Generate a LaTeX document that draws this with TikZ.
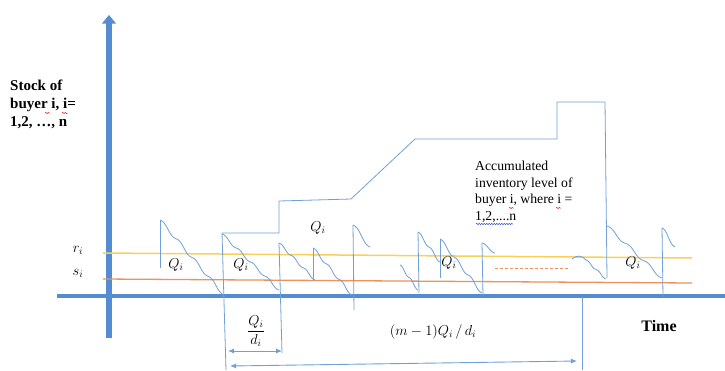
\documentclass[tikz,border=0pt]{standalone}
\usepackage{fontspec}
\setmainfont{Liberation Serif}
\usetikzlibrary{arrows.meta,decorations.pathmorphing}
\definecolor{axblue}{RGB}{84,140,210}
\definecolor{lineblue}{RGB}{112,160,214}
\definecolor{ryellow}{RGB}{250,208,90}
\definecolor{sorange}{RGB}{238,145,90}
\definecolor{spellred}{RGB}{220,60,60}
\definecolor{spellblue}{RGB}{70,90,210}
\newcommand{\wavyseg}[5]{\draw[thinb] plot[domain=0:1,samples=60,variable=\t] ({#1+(#3-#1)*\t},{#2+(#4-#2)*(\t-0.6*sin(360*#5*\t)/(6.2832*#5))});}
\begin{document}
\begin{tikzpicture}[x=1pt,y=-1pt,
  thinb/.style={draw=lineblue,line width=0.8pt,line join=round},
  lbl/.style={inner sep=0pt,font=\fontsize{14.5}{16}\selectfont},
  squig/.style={line width=0.5pt,decorate,decoration={snake,amplitude=0.8pt,segment length=2.5pt}},
  dim/.style={draw=lineblue,line width=0.9pt,{Latex[length=6pt,width=5pt]}-{Latex[length=6pt,width=5pt]}}]
\useasboundingbox[fill=white] (0,0) rectangle (725,370);
% axes
\fill[axblue] (105.5,23) rectangle (112,338);
\fill[axblue] (102,23.5) -- (116,23.5) -- (109,15) -- cycle;
\draw[axblue,line width=3.5pt] (57,296) -- (725,296);
% r and s lines
\draw[ryellow,line width=1.5pt] (103,253) -- (692,258);
\draw[sorange,line width=1.3pt] (103,279) -- (692,283);
\draw[sorange,line width=0.8pt,dashed,dash pattern=on 3pt off 2pt] (495,268) -- (569,268);
% accumulated outline
\draw[thinb] (222,233) -- (279,233) -- (279,201) -- (351,199) -- (415,139) -- (557,139) -- (557,102) -- (605,102) -- (607,278);
% vertical lines
\draw[thinb] (160,220) -- (160,268);
\draw[thinb] (222,233) -- (226,370);
\draw[thinb] (279,243) -- (282,353);
\draw[thinb] (313,248) -- (313,280);
\draw[thinb] (353,225) -- (354,310);
\draw[thinb] (418,232) -- (419,293);
\draw[thinb] (440,239) -- (440,278);
\draw[thinb] (482,243) -- (483,296);
\draw[thinb] (662,228) -- (663,297);
\draw[thinb] (582,297) -- (582,370);
% wavy curves
\wavyseg{160}{220}{224}{295}{4}
\wavyseg{222}{234}{279}{290}{4}
\wavyseg{279}{243}{315}{280}{3}
\wavyseg{313}{248}{352}{295}{3}
\wavyseg{353}{225}{370}{247}{1}
\wavyseg{400}{265}{418}{290}{2}
\wavyseg{418}{232}{440}{262}{2}
\wavyseg{440}{239}{482}{293}{3}
\wavyseg{482}{243}{495}{253}{1}
\draw[thinb] (572,259) .. controls (576,255) and (582,255) .. (586,260);
\wavyseg{586}{260}{606}{279}{2}
\wavyseg{607}{226}{662}{278}{3}
\wavyseg{662}{228}{675}{247}{1}
% labels
\node[lbl] (q1) at (176,265) {$Q_i$};
\node[lbl] (q2) at (241,265) {$Q_i$};
\node[lbl] (q3) at (318,228) {$Q_i$};
\node[lbl] (q4) at (449,263) {$Q_i$};
\node[lbl] (q5) at (633,263) {$Q_i$};
\node[lbl] (r) at (78,250) {$r_i$};
\node[lbl] (s) at (78,273) {$s_i$};
\node[anchor=north west,align=left,inner sep=0pt,font=\bfseries\fontsize{15}{18}\selectfont] (ylab) at (10,80) {Stock of\\buyer i, i=\\1,2, …, n};
\node[anchor=north west,align=left,inner sep=0pt,font=\fontsize{13.7}{16.5}\selectfont] (acc) at (475,161) {Accumulated\\inventory level of\\buyer i, where i =\\1,2,....n};
\node[inner sep=0pt,font=\bfseries\fontsize{16}{19}\selectfont] (time) at (659,326) {Time};
% spell-check squiggles
\coordinate (sq1a) at (45,113); \coordinate (sq1b) at (50,113);
\coordinate (sq2a) at (62,113); \coordinate (sq2b) at (68,113);
\coordinate (sq3a) at (509,208); \coordinate (sq3b) at (514,208);
\coordinate (sq4a) at (556,208); \coordinate (sq4b) at (561,208);
\coordinate (sq5a) at (476,224); \coordinate (sq5b) at (513,224);
\draw[squig,spellred] (sq1a) -- (sq1b);
\draw[squig,spellred] (sq2a) -- (sq2b);
\draw[squig,spellred] (sq3a) -- (sq3b);
\draw[squig,spellred] (sq4a) -- (sq4b);
\draw[squig,spellblue] (sq5a) -- (sq5b);
% dimensions
\coordinate (d1a) at (228,351);
\coordinate (d1b) at (282,351);
\coordinate (d2a) at (230,366);
\coordinate (d2b) at (577,361);
\draw[dim] (d1a) -- (d1b);
\draw[dim] (d2a) -- (d2b);
\node[lbl] (frac) at (256,331) {$\displaystyle\frac{Q_i}{d_i}$};
\node[lbl] (mlab) at (433,332) {$(m-1)Q_i\,/\,d_i$};
\end{tikzpicture}
\end{document}
